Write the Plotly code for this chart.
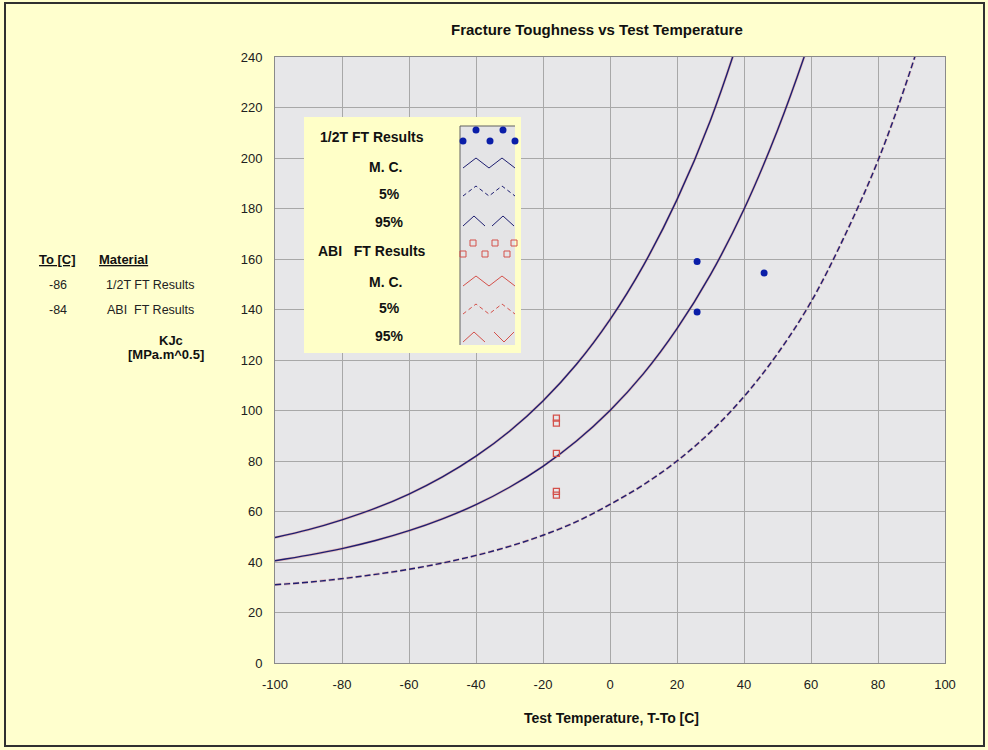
import plotly.graph_objects as go

# ---------------- data ----------------
curve_t = [-100, -90, -80, -70, -60, -50, -40, -30, -20, -10, 0, 10, 20, 30, 40, 50, 60, 70, 80, 90, 100]
mc_kjc = [40.5, 42.7, 45.3, 48.5, 52.4, 57.1, 62.7, 69.6, 77.9, 87.9, 100.0, 114.6, 132.4, 153.8, 179.7, 211.0, 248.0, 290.0, 340.0, 400.0, 470.0]
p05_kjc = [31.0, 32.0, 33.4, 35.1, 37.1, 39.6, 42.6, 46.2, 50.6, 56.0, 62.8, 70.6, 80.0, 91.5, 105.5, 122.5, 143.0, 169.0, 199.0, 236.0, 280.0]
p95_kjc = [49.7, 52.8, 56.7, 61.3, 66.9, 73.7, 81.9, 91.8, 103.8, 118.3, 136.0, 157.5, 183.5, 215.0, 254.0, 300.0, 355.0, 420.0, 495.0, 585.0, 695.0]

half_t_temp = [26, 26, 46]
half_t_kjc = [159, 139, 154.5]

abi_temp = [-16, -16, -16, -16, -16]
abi_kjc = [97, 95, 83, 68, 66.5]

x_ticks = [-100, -80, -60, -40, -20, 0, 20, 40, 60, 80, 100]
y_ticks = [0, 20, 40, 60, 80, 100, 120, 140, 160, 180, 200, 220, 240]

materials_to = ["-86", "-84"]
materials_name = ["1/2T FT Results", "ABI  FT Results"]
legend_labels = ["1/2T FT Results", "M. C.", "5%", "95%", "ABI   FT Results", "M. C.", "5%", "95%"]

# ---------------- style ----------------
W, H = 988, 750
P_L, P_R, P_T, P_B = 275, 945, 57, 663
PAPER = "#FFFFCE"
PLOTBG = "#E7E7E9"
GRID = "#A8A8A8"
NAVY = "#1E1E70"
RED = "#D4504A"
DOT = "#0A1EA8"
FONT = "Liberation Sans, Arial, sans-serif"
TXT = "#111111"


def px(x):
    return (x - P_L) / (P_R - P_L)


def py(y):
    return (P_B - y) / (P_B - P_T)


fig = go.Figure()

# ABI curves (underneath, red)
for vals, dash in [(mc_kjc, "solid"), (p05_kjc, "6px,3px"), (p95_kjc, "solid")]:
    fig.add_trace(go.Scatter(x=curve_t, y=vals, mode="lines", line=dict(color=RED, width=2.6, dash=dash, shape="spline"),
                             opacity=0.3, hoverinfo="skip", showlegend=False))
# 1/2T curves (navy)
for vals, dash in [(mc_kjc, "solid"), (p05_kjc, "6px,3px"), (p95_kjc, "solid")]:
    fig.add_trace(go.Scatter(x=curve_t, y=vals, mode="lines", line=dict(color=NAVY, width=1.4, dash=dash, shape="spline"),
                             hoverinfo="skip", showlegend=False))

fig.add_trace(go.Scatter(x=half_t_temp, y=half_t_kjc, mode="markers",
                         marker=dict(color=DOT, size=7, symbol="circle"), showlegend=False))
fig.add_trace(go.Scatter(x=abi_temp, y=abi_kjc, mode="markers",
                         marker=dict(color="rgba(0,0,0,0)", size=6, symbol="square",
                                     line=dict(color=RED, width=1.3)), showlegend=False))

shapes = []
annotations = []

# outer frame
shapes.append(dict(type="rect", xref="paper", yref="paper", x0=px(5), x1=px(984), y0=py(746), y1=py(3),
                   line=dict(color="#303030", width=2), fillcolor="rgba(0,0,0,0)", layer="above"))

# legend box
shapes.append(dict(type="rect", xref="paper", yref="paper", x0=px(304), x1=px(521), y0=py(353), y1=py(117),
                   line=dict(width=0), fillcolor="#FFFFC8", layer="above"))
shapes.append(dict(type="rect", xref="paper", yref="paper", x0=px(460), x1=px(515), y0=py(345), y1=py(126),
                   line=dict(width=0), fillcolor="#E4E4E6", layer="above"))
shapes.append(dict(type="path", xref="paper", yref="paper",
                   path=f"M {px(460)},{py(345)} L {px(460)},{py(126)} L {px(515)},{py(126)}",
                   line=dict(color="#606060", width=1), layer="above"))


def zig(points, color, dash="solid"):
    d = "M " + " L ".join(f"{px(a)},{py(b)}" for a, b in points)
    shapes.append(dict(type="path", xref="paper", yref="paper", path=d,
                       line=dict(color=color, width=1, dash=dash), layer="above"))


# 1/2T symbols
zig([(463, 168), (476, 158), (489, 168), (502, 158), (515, 168)], NAVY)
zig([(463, 196), (476, 186), (489, 196), (502, 186), (515, 196)], NAVY, "4px,3px")
zig([(463, 226), (474, 216), (485, 226)], NAVY)
zig([(492, 226), (503, 216), (514, 226)], NAVY)
# ABI symbols
zig([(463, 286), (476, 276), (489, 286), (502, 276), (515, 286)], RED)
zig([(463, 314), (476, 304), (489, 314), (502, 304), (515, 314)], RED, "4px,3px")
zig([(463, 342), (474, 332), (485, 342)], RED)
zig([(494, 332), (504, 342), (514, 332)], RED)

# legend dots and squares (decorative swatches)
for (cx, cy) in [(476, 130), (503, 130), (463, 141), (490, 141), (515, 141)]:
    shapes.append(dict(type="circle", xref="paper", yref="paper", x0=px(cx - 3.5), x1=px(cx + 3.5), y0=py(cy + 3.5), y1=py(cy - 3.5),
                       line=dict(width=0), fillcolor=DOT, layer="above"))
for (cx, cy) in [(473, 243), (495, 243), (514, 243), (463, 254), (485, 254), (507, 254)]:
    shapes.append(dict(type="rect", xref="paper", yref="paper", x0=px(cx - 3), x1=px(cx + 3), y0=py(cy + 3), y1=py(cy - 3),
                       line=dict(width=1, color=RED), fillcolor="rgba(0,0,0,0)", layer="above"))

legend_y = [137, 167, 194, 222, 251, 282, 308, 336]
legend_x = [372, 385, 389, 389, 372, 385, 389, 389]
for lab, lx, ly in zip(legend_labels, legend_x, legend_y):
    annotations.append(dict(text=f"<b>{lab}</b>", x=px(lx), y=py(ly), xref="paper", yref="paper",
                            showarrow=False, xanchor="center", yanchor="middle",
                            font=dict(family=FONT, size=14, color=TXT)))

# title
annotations.append(dict(text="<b>Fracture Toughness vs Test Temperature</b>", x=px(597), y=py(29), xref="paper", yref="paper",
                        showarrow=False, xanchor="center", yanchor="middle", font=dict(family=FONT, size=15, color=TXT)))
annotations.append(dict(text="<b>Test Temperature, T-To [C]</b>", x=px(611), y=py(718), xref="paper", yref="paper",
                        showarrow=False, xanchor="center", yanchor="middle", font=dict(family=FONT, size=14, color=TXT)))

# left text block
annotations.append(dict(text="<b><u>To [C]</u></b>", x=px(57), y=py(259), xref="paper", yref="paper",
                        showarrow=False, xanchor="center", yanchor="middle", font=dict(family=FONT, size=13, color=TXT)))
annotations.append(dict(text="<b><u>Material</u></b>", x=px(97), y=py(259), xref="paper", yref="paper",
                        showarrow=False, xanchor="left", yanchor="middle", font=dict(family=FONT, size=13, color=TXT)))
for i, (t0, name) in enumerate(zip(materials_to, materials_name)):
    yy = 285 + 25 * i
    annotations.append(dict(text=t0, x=px(58), y=py(yy), xref="paper", yref="paper",
                            showarrow=False, xanchor="center", yanchor="middle", font=dict(family=FONT, size=12.5, color="#222222")))
    annotations.append(dict(text=name, x=px(150), y=py(yy), xref="paper", yref="paper",
                            showarrow=False, xanchor="center", yanchor="middle", font=dict(family=FONT, size=12.5, color="#222222")))
annotations.append(dict(text="<b>KJc</b>", x=px(171), y=py(340), xref="paper", yref="paper",
                        showarrow=False, xanchor="center", yanchor="middle", font=dict(family=FONT, size=13, color=TXT)))
annotations.append(dict(text="<b>[MPa.m^0.5]</b>", x=px(166), y=py(354), xref="paper", yref="paper",
                        showarrow=False, xanchor="center", yanchor="middle", font=dict(family=FONT, size=13, color=TXT)))

fig.update_layout(
    width=W, height=H,
    margin=dict(l=P_L, r=W - P_R, t=P_T, b=H - P_B, pad=0),
    paper_bgcolor=PAPER, plot_bgcolor=PLOTBG,
    shapes=shapes, annotations=annotations,
    showlegend=False,
    font=dict(family=FONT, size=13, color="#202020"),
)
fig.update_xaxes(range=[-100, 100], tickvals=x_ticks, ticktext=[str(v) for v in x_ticks],
                 showgrid=True, gridcolor=GRID, gridwidth=1, zeroline=False,
                 showline=True, linecolor="#8A8A8A", linewidth=1, mirror=True, ticks="",
                 ticklabelstandoff=9,
                 tickfont=dict(family=FONT, size=13, color="#202020"))
fig.update_yaxes(range=[0, 240], tickvals=y_ticks, ticktext=[str(v) for v in y_ticks],
                 showgrid=True, gridcolor=GRID, gridwidth=1, zeroline=False,
                 showline=True, linecolor="#8A8A8A", linewidth=1, mirror=True, ticks="",
                 ticklabelstandoff=9,
                 tickfont=dict(family=FONT, size=13, color="#202020"))

fig.write_html("out.html")
